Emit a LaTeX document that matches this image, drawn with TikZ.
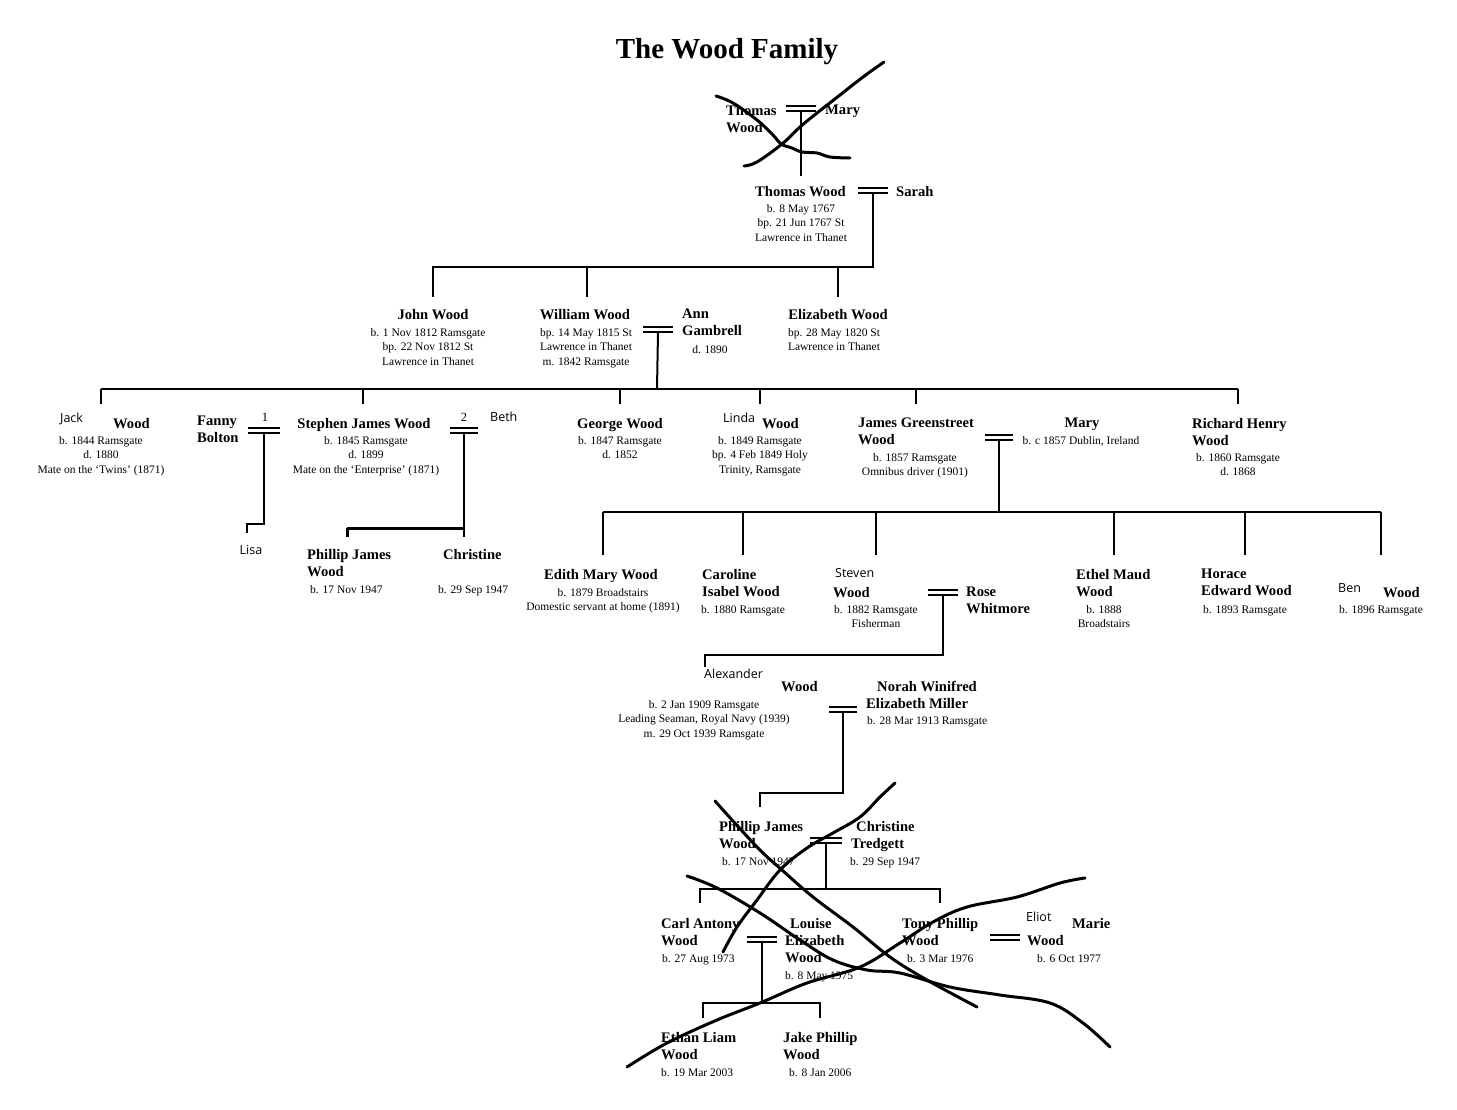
\documentclass[tikz,border=0pt]{standalone}
\usepackage{fontspec}
\setmainfont{Liberation Serif}
\newfontfamily\sansf{Open Sans}
\begin{document}
\begin{tikzpicture}[x=1pt,y=-1pt,
  nm/.style={font=\bfseries\fontsize{14.6}{17}\selectfont, inner sep=0pt, anchor=north west, align=left, yshift=-2pt},
  nmc/.style={font=\bfseries\fontsize{14.6}{17}\selectfont, inner sep=0pt, anchor=north, align=center, yshift=-2pt},
  dt/.style={font=\fontsize{11.5}{14.5}\selectfont, inner sep=0pt, anchor=north, align=center, yshift=-2pt},
  dtl/.style={font=\fontsize{11.5}{14.5}\selectfont, inner sep=0pt, anchor=north west, align=left, yshift=-2pt},
  sa/.style={font=\sansf\fontsize{12.5}{14}\selectfont, inner sep=0pt, anchor=north west, yshift=-1pt},
  tl/.style={line width=2pt},
  thk/.style={line width=3pt},
  scr/.style={line width=3pt, line cap=round, line join=round}]
\newcommand\marr[4]{\draw[tl] (#2,#4)--(#3,#4) (#2,#4+5)--(#3,#4+5); \coordinate (#1) at ({(#2+#3)/2},#4+5);}
\fill[white] (0,0) rectangle (1457,1110);
\useasboundingbox (0,0) rectangle (1457,1110);

% title
\node[font=\bfseries\fontsize{29}{33}\selectfont, inner sep=0pt] (title) at (727,52) {The Wood Family};

% generation 0
\node[nm] (tw0) at (726,103) {Thomas\\Wood};
\node[nm] (m0) at (825,103) {Mary};
\marr{mar0}{786}{816}{106}
\coordinate (j0) at (801,176);
\draw[tl] (mar0) -- (j0);

% generation 1
\node[nm] (tw1) at (755,184) {Thomas Wood};
\node[dt] (tw1d) at (801,202) {b. 8 May 1767\\bp. 21 Jun 1767 St\\Lawrence in Thanet};
\node[nm] (sa1) at (896,184) {Sarah};
\marr{mar1}{858}{888}{188}
\coordinate (h1) at (873,267);
\coordinate (h1a) at (433,267);
\coordinate (c1a) at (433,297);
\coordinate (c1b) at (587,297);
\coordinate (c1c) at (838,297);
\draw[tl] (mar1) -- (h1) -- (h1a) -- (c1a);
\draw[tl] (c1b |- h1) -- (c1b);
\draw[tl] (c1c |- h1) -- (c1c);

% generation 2
\node[nmc] (jw) at (433,307) {John Wood};
\node[dt] (jwd) at (428,326) {b. 1 Nov 1812 Ramsgate\\bp. 22 Nov 1812 St\\Lawrence in Thanet};
\node[nmc] (ww) at (585,307) {William Wood};
\node[dt] (wwd) at (586,326) {bp. 14 May 1815 St\\Lawrence in Thanet\\m. 1842 Ramsgate};
\node[nm] (ag) at (682,307) {Ann\\Gambrell};
\node[dt] (agd) at (710,343) {d. 1890};
\marr{mar2}{643}{673}{327}
\node[nmc] (ew) at (838,307) {Elizabeth Wood};
\node[dt] (ewd) at (834,326) {bp. 28 May 1820 St\\Lawrence in Thanet};

\coordinate (h2) at (657,389);
\coordinate (h2l) at (101,389);
\coordinate (h2r) at (1238,389);
\draw[tl] (mar2) -- (h2);
\draw[tl] (h2l) -- (h2r);
\foreach \xx in {101,363,620,760,916,1238} \draw[tl] (\xx,389) -- (\xx,404);

% generation 3
\node[sa] (jack) at (60,412) {Jack};
\node[nm] (jackw) at (113,416) {Wood};
\node[dt] (jackd) at (101,434) {b. 1844 Ramsgate\\d. 1880\\Mate on the `Twins' (1871)};

\node[nm] (fb) at (197,414) {Fanny\\Bolton};
\node[font=\fontsize{12.5}{14}\selectfont, inner sep=0pt] (one) at (265,417) {1};
\marr{mar3a}{248}{280}{428}
\coordinate (l1) at (264,524);
\coordinate (l2) at (247,524);
\coordinate (l3) at (247,533);
\draw[tl] (mar3a) -- (l1) -- (l2) -- (l3);
\node[sa, anchor=center] (lisa) at (251,549) {Lisa};

\node[nmc] (sj) at (364,416) {Stephen James Wood};
\node[dt] (sjd) at (366,434) {b. 1845 Ramsgate\\d. 1899\\Mate on the `Enterprise' (1871)};
\node[font=\fontsize{12.5}{14}\selectfont, inner sep=0pt] (two) at (464,417) {2};
\marr{mar3b}{450}{478}{428}
\node[sa] (beth) at (490,411) {Beth};
\coordinate (b1) at (464,537);
\coordinate (b2) at (464,528);
\coordinate (b3) at (347,528);
\coordinate (b4) at (347,537);
\draw[tl] (mar3b) -- (b1);
\draw[thk] (b2) -- (b3);
\draw[thk] (b3) -- (b4);
\node[nm] (pj1) at (307,547) {Phillip James\\Wood};
\node[dtl] (pj1d) at (310,583) {b. 17 Nov 1947};
\node[nm] (ch1) at (443,547) {Christine};
\node[dtl] (ch1d) at (438,583) {b. 29 Sep 1947};

\node[nmc] (gw) at (620,416) {George Wood};
\node[dt] (gwd) at (620,434) {b. 1847 Ramsgate\\d. 1852};

\node[sa] (linda) at (723,412) {Linda};
\node[nm] (lindaw) at (762,416) {Wood};
\node[dt] (lindad) at (760,434) {b. 1849 Ramsgate\\bp. 4 Feb 1849 Holy\\Trinity, Ramsgate};

\node[nm] (jg) at (858,416) {James Greenstreet\\Wood};
\node[dt] (jgd) at (915,451) {b. 1857 Ramsgate\\Omnibus driver (1901)};
\marr{mar3c}{985}{1013}{435}
\node[nmc] (ma3) at (1082,416) {Mary};
\node[dt] (ma3d) at (1081,434) {b. c 1857 Dublin, Ireland};
\node[nm] (rh) at (1192,416) {Richard Henry\\Wood};
\node[dt] (rhd) at (1238,451) {b. 1860 Ramsgate\\d. 1868};

\coordinate (h3) at (999,512);
\draw[tl] (mar3c) -- (h3);
\draw[tl] (603,512) -- (1381,512);
\foreach \xx in {603,743,876,1114,1245,1381} \draw[tl] (\xx,512) -- (\xx,555);

% generation 4
\node[nmc] (em) at (601,567) {Edith Mary Wood};
\node[dt] (emd) at (603,586) {b. 1879 Broadstairs\\Domestic servant at home (1891)};
\node[nm] (ci) at (702,567) {Caroline\\Isabel Wood};
\node[dtl] (cid) at (701,603) {b. 1880 Ramsgate};
\node[sa] (steven) at (835,567) {Steven};
\node[nm] (stevenw) at (833,585) {Wood};
\node[dt] (stevend) at (876,603) {b. 1882 Ramsgate\\Fisherman};
\marr{mar4}{928}{958}{590}
\node[nm] (rw) at (966,585) {Rose\\Whitmore};
\coordinate (a1) at (943,655);
\coordinate (a2) at (705,655);
\coordinate (a3) at (705,667);
\draw[tl] (mar4) -- (a1) -- (a2) -- (a3);
\node[nm] (emw) at (1076,567) {Ethel Maud\\Wood};
\node[dt] (emwd) at (1104,603) {b. 1888\\Broadstairs};
\node[nm] (he) at (1201,567) {Horace\\Edward Wood};
\node[dtl] (hed) at (1203,603) {b. 1893 Ramsgate};
\node[sa] (ben) at (1338,582) {Ben};
\node[nm] (benw) at (1383,585) {Wood};
\node[dtl] (bend) at (1339,603) {b. 1896 Ramsgate};

% generation 5
\node[sa] (alex) at (704,668) {Alexander};
\node[nm] (alexw) at (781,679) {Wood};
\node[dt] (alexd) at (704,698) {b. 2 Jan 1909 Ramsgate\\Leading Seaman, Royal Navy (1939)\\m. 29 Oct 1939 Ramsgate};
\marr{mar5}{829}{857}{707}
\node[nm] (nw1) at (877,679) {Norah Winifred};
\node[nm] (nw2) at (866,696) {Elizabeth Miller};
\node[dtl] (nwd) at (867,714) {b. 28 Mar 1913 Ramsgate};
\coordinate (p1) at (843,793);
\coordinate (p2) at (760,793);
\coordinate (p3) at (760,807);
\draw[tl] (mar5) -- (p1) -- (p2) -- (p3);

% generation 6
\node[nm] (pj2) at (719,819) {Phillip James\\Wood};
\node[dtl] (pj2d) at (722,855) {b. 17 Nov 1947};
\marr{mar6}{810}{842}{838}
\node[nm] (ct1) at (856,819) {Christine};
\node[nm] (ct2) at (851,836) {Tredgett};
\node[dtl] (ctd) at (850,855) {b. 29 Sep 1947};
\coordinate (q1) at (826,889);
\draw[tl] (mar6) -- (q1);
\draw[tl] (700,903) -- (700,889) -- (940,889) -- (940,903);

% generation 7
\node[nm] (ca) at (661,916) {Carl Antony\\Wood};
\node[dtl] (cad) at (662,952) {b. 27 Aug 1973};
\marr{mar7}{747}{777}{937}
\node[nm] (le1) at (790,916) {Louise};
\node[nm] (le2) at (785,933) {Elizabeth\\Wood};
\node[dtl] (led) at (785,969) {b. 8 May 1975};
\coordinate (r1) at (762,1003);
\draw[tl] (mar7) -- (r1);
\draw[tl] (703,1018) -- (703,1003) -- (820,1003) -- (820,1018);
\node[nm] (tp) at (902,916) {Tony Phillip\\Wood};
\node[dtl] (tpd) at (907,952) {b. 3 Mar 1976};
\marr{mar7b}{990}{1020}{935}
\node[sa] (eliot) at (1026,911) {Eliot};
\node[nm] (marie) at (1072,916) {Marie};
\node[nm] (eliotw) at (1027,933) {Wood};
\node[dtl] (eliotd) at (1037,952) {b. 6 Oct 1977};

% generation 8
\node[nm] (el) at (661,1030) {Ethan Liam\\Wood};
\node[dtl] (eld) at (661,1066) {b. 19 Mar 2003};
\node[nm] (jp) at (783,1030) {Jake Phillip\\Wood};
\node[dtl] (jpd) at (789,1066) {b. 8 Jan 2006};

% scribbles
\draw[scr] plot[smooth, tension=0.6] coordinates {(716,96) (733,103) (757,120) (773,135) (781,144) (792,148) (802,152) (817,153) (830,157) (850,158)};
\draw[scr] plot[smooth, tension=0.6] coordinates {(744,166) (757,162) (782,144) (800,127) (817,113) (840,95) (863,77) (884,62)};
\draw[scr] plot[smooth, tension=0.6] coordinates {(715,801) (757,847) (782,870) (813,897) (853,927) (890,957) (927,980) (977,1007)};
\draw[scr] plot[smooth, tension=0.6] coordinates {(723,952) (737,927) (757,900) (780,870) (807,848) (833,833) (860,817) (880,797) (895,783)};
\draw[scr] plot[smooth, tension=0.6] coordinates {(687,876) (717,888) (760,913) (800,940) (833,960) (867,970) (900,973) (950,987) (1000,995) (1050,1003) (1083,1023) (1110,1047)};
\draw[scr] plot[smooth, tension=0.6] coordinates {(627,1067) (667,1043) (717,1020) (760,1003) (807,983) (860,967) (900,943) (933,922) (967,907) (1017,897) (1060,883) (1085,878)};
\end{tikzpicture}
\end{document}
